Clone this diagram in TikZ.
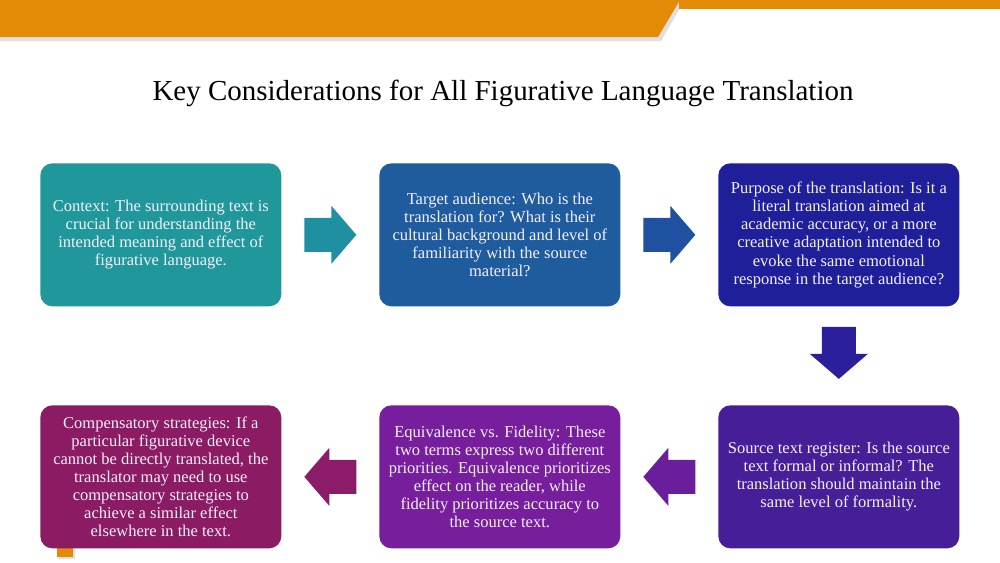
\documentclass[tikz,border=0pt]{standalone}
\usepackage{fontspec}
\setmainfont{Liberation Serif}
\usetikzlibrary{calc}
\definecolor{barorange}{HTML}{E38B07}
\definecolor{cA}{HTML}{20989B}
\definecolor{cB}{HTML}{1F5C9D}
\definecolor{cC}{HTML}{1F1F9A}
\definecolor{cD}{HTML}{461F98}
\definecolor{cE}{HTML}{771E9C}
\definecolor{cF}{HTML}{8B1B63}
\definecolor{aA}{HTML}{1F8FA2}
\definecolor{aB}{HTML}{2050A0}
\definecolor{aC}{HTML}{2C1F9C}
\definecolor{aD}{HTML}{6A1E9C}
\definecolor{aE}{HTML}{8A1C6A}
\definecolor{boxtext}{HTML}{F4F0FA}
\tikzset{
  box/.style={rounded corners=0.24cm, minimum width=4.82cm, minimum height=2.86cm,
    inner sep=0pt, text=boxtext, align=center, anchor=north west,
    font=\fontsize{9.4}{10.3}\selectfont},
  arr/.pic={\fill[pic actions] (-26,-17) -- (1,-17) -- (1,-29) -- (26,0) -- (1,29) -- (1,17) -- (-26,17) -- cycle;}
}
\begin{document}
\begin{tikzpicture}[x=0.02cm,y=-0.02cm]
\useasboundingbox (0,0) rectangle (1000,562);
\fill[white] (0,0) rectangle (1000,562);
% top bar with shadow
\fill[black!35,opacity=0.35] (0,3) -- (683,3) -- (661,41) -- (0,41) -- cycle;
\fill[barorange] (0,0) -- (680,0) -- (658,37) -- (0,37) -- cycle;
\fill[barorange] (679,0) rectangle (1000,9);
% title
\node[font=\fontsize{16.5}{19}\selectfont] (title) at (503,93) {Key Considerations for All Figurative Language Translation};
% small orange mark
\fill[black!35,opacity=0.35] (59,540) rectangle (75,559);
\fill[barorange] (57,538) rectangle (73,557);
% boxes
\node[box, fill=cA] (b1) at (40,163) {Context: The surrounding text is\\crucial for understanding the\\intended meaning and effect of\\figurative language.};
\node[box, fill=cB] (b2) at (379,163) {Target audience: Who is the\\translation for? What is their\\cultural background and level of\\familiarity with the source\\material?};
\node[box, fill=cC] (b3) at (718,163) {Purpose of the translation: Is it a\\literal translation aimed at\\academic accuracy, or a more\\creative adaptation intended to\\evoke the same emotional\\response in the target audience?};
\node[box, fill=cD] (b4) at (718,405) {Source text register: Is the source\\text formal or informal? The\\translation should maintain the\\same level of formality.};
\node[box, fill=cE] (b5) at (379,405) {Equivalence vs. Fidelity: These\\two terms express two different\\priorities. Equivalence prioritizes\\effect on the reader, while\\fidelity prioritizes accuracy to\\the source text.};
\node[box, fill=cF] (b6) at (40,405) {Compensatory strategies: If a\\particular figurative device\\cannot be directly translated, the\\translator may need to use\\compensatory strategies to\\achieve a similar effect\\elsewhere in the text.};
% arrows
\pic[fill=aA] at ($(b1.east)!0.5!(b2.west)$) {arr};
\pic[fill=aB] at ($(b2.east)!0.5!(b3.west)$) {arr};
\pic[fill=aC, rotate=-90] at ($(b3.south)!0.47!(b4.north)$) {arr};
\pic[fill=aD, rotate=180] at ($(b4.west)!0.5!(b5.east)$) {arr};
\pic[fill=aE, rotate=180] at ($(b5.west)!0.5!(b6.east)$) {arr};
\end{tikzpicture}
\end{document}
